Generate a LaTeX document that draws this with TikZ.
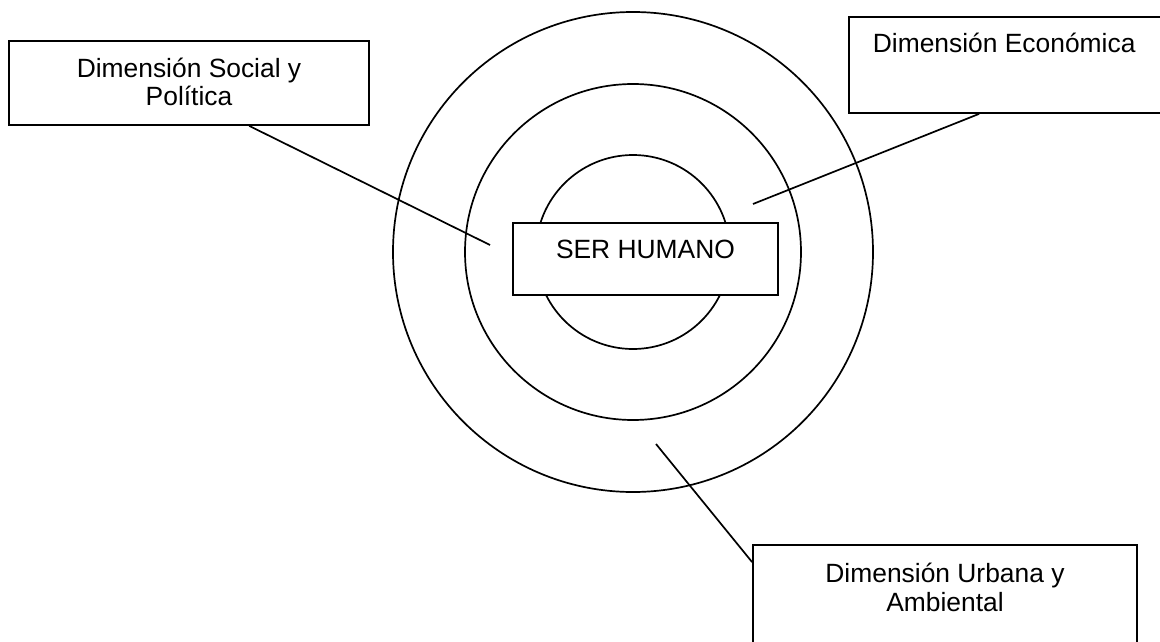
\documentclass[tikz,border=0pt]{standalone}
\usepackage{fontspec}
\setmainfont{Liberation Sans}
\begin{document}
\begin{tikzpicture}[x=1pt,y=-1pt,line width=1.7pt,
  box/.style={draw,fill=white,rectangle,inner sep=0pt},
  ring/.style={draw,circle,inner sep=0pt},
  lbl/.style={font=\fontsize{26.4}{28.8}\selectfont,inner sep=0pt,align=center}]
\useasboundingbox (0,0) rectangle (1160,642);
\clip (0,0) rectangle (1160,642);
% rings
\node[ring,minimum size=480pt] (outer) at (633,252) {};
\node[ring,minimum size=336pt] (middle) at (633,252) {};
\node[ring,minimum size=194pt] (inner) at (633,252) {};
% boxes
\node[box,minimum width=360pt,minimum height=84pt] (b1) at (189,83) {};
\node[box,minimum width=321pt,minimum height=96pt] (b2) at (1009.5,65) {};
\node[box,minimum width=384pt,minimum height=115pt] (b3) at (945,602.5) {};
\node[box,minimum width=265pt,minimum height=72pt] (ser) at (645.5,259) {};
% texts (base = baseline of the last line)
\node[lbl,anchor=base] (t1) at (189,106) {Dimensión Social y\\Política};
\node[lbl,anchor=base west] (t2) at (872,53) {Dimensión Económica};
\node[lbl,anchor=base] (t3) at (945,611) {Dimensión Urbana y\\Ambiental};
\node[lbl,anchor=base] (t4) at (645.5,258) {SER HUMANO};
% free ends of connectors
\coordinate (e1) at (490,245);
\coordinate (e2) at (753,204);
\coordinate (e3) at (656,444);
% connectors
\draw ([xshift=241pt]b1.south west) -- (e1);
\draw ([xshift=131pt]b2.south west) -- (e2);
\draw ([yshift=-18pt]b3.north west) -- (e3);
\end{tikzpicture}
\end{document}
